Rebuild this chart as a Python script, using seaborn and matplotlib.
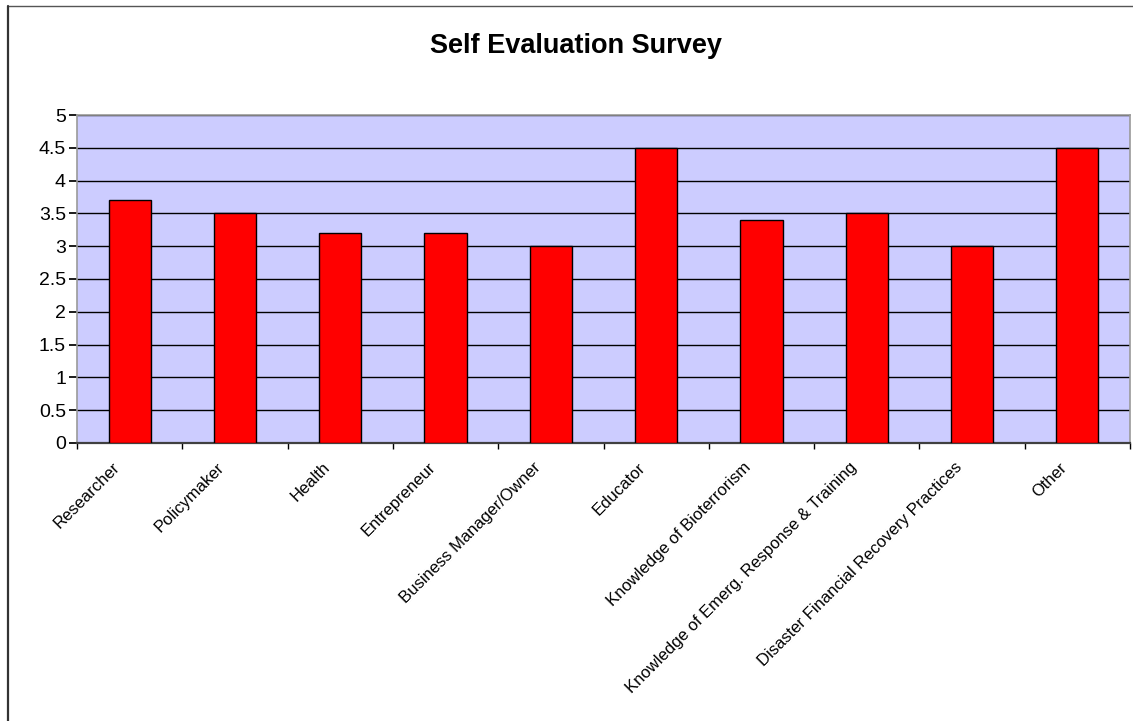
#!/usr/bin/env python3
import numpy as np
import pandas as pd
import seaborn as sns
import matplotlib.pyplot as plt
import matplotlib.transforms as mtransforms
from matplotlib.lines import Line2D

CATEGORIES = [
    "Researcher", "Policymaker", "Health", "Entrepreneur",
    "Business Manager/Owner", "Educator", "Knowledge of Bioterrorism",
    "Knowledge of Emerg. Response & Training",
    "Disaster Financial Recovery Practices", "Other",
]
SCORES = [3.7, 3.5, 3.2, 3.2, 3.0, 4.5, 3.4, 3.5, 3.0, 4.5]
Y_TICKS = [0, 0.5, 1, 1.5, 2, 2.5, 3, 3.5, 4, 4.5, 5]
Y_TICK_LABELS = ["0", "0.5", "1", "1.5", "2", "2.5", "3", "3.5", "4", "4.5", "5"]

W, H = 1133, 721

sns.set_theme(style="white")
plt.rcParams["font.family"] = ["Liberation Sans", "DejaVu Sans"]
plt.rcParams["text.color"] = "black"
plt.rcParams["xtick.color"] = "black"
plt.rcParams["ytick.color"] = "black"
plt.rcParams["xtick.labelcolor"] = "black"
plt.rcParams["ytick.labelcolor"] = "black"

df = pd.DataFrame({"category": CATEGORIES, "score": SCORES})

fig = plt.figure(figsize=(W / 100, H / 100), dpi=100)
ax = fig.add_axes([77 / W, 1 - 443 / H, (1130 - 77) / W, (443 - 115) / H])
ax.set_facecolor("#CCCCFF")

sns.barplot(data=df, x="category", y="score", color="#FF0000", width=0.4,
            edgecolor="black", linewidth=1.0, saturation=1, ax=ax, zorder=3)

ax.set_ylim(0, 5)
ax.set_xlim(-0.5, len(CATEGORIES) - 0.5)
ax.set_yticks(Y_TICKS)
ax.set_yticklabels(Y_TICK_LABELS, fontsize=14, color="black")
ax.yaxis.grid(True, color="black", linewidth=1.0, zorder=1)
ax.set_axisbelow(True)

# labels under the bars, tick marks at the category boundaries
ax.set_xticks(range(len(CATEGORIES)))
ax.set_xticklabels(CATEGORIES, rotation=45, ha="right", rotation_mode="anchor",
                   fontsize=12, color="black")
ax.tick_params(axis="x", which="major", length=3, direction="in", color="black", pad=12)
ax.set_xticks(np.arange(-0.5, len(CATEGORIES), 1), minor=True)
ax.tick_params(axis="x", which="minor", length=4.5, direction="out", color="black", bottom=True)
ax.tick_params(axis="y", length=6, direction="out", color="black", left=True, pad=2)

shift = mtransforms.ScaledTranslation(-18 / 100, 0, fig.dpi_scale_trans)
for lbl in ax.get_xticklabels():
    lbl.set_transform(lbl.get_transform() + shift)

ax.set_xlabel("")
ax.set_ylabel("")
for side in ["left", "top", "right"]:
    ax.spines[side].set_visible(True)
    ax.spines[side].set_color("#9a9a9a")
    ax.spines[side].set_linewidth(1.2)
ax.spines["bottom"].set_color("#404040")
ax.spines["bottom"].set_linewidth(1.6)

fig.text(576 / W, 1 - 46 / H, "Self Evaluation Survey", ha="center", va="center",
         fontsize=19.5, fontweight="bold", color="black")

# chart frame (only top and left edges fall inside the image)
fig.lines.append(Line2D([8 / W, 1.0], [1 - 5.5 / H, 1 - 5.5 / H], transform=fig.transFigure,
                        color="#555555", linewidth=1.0))
fig.lines.append(Line2D([8 / W, 8 / W], [0.0, 1 - 5.5 / H], transform=fig.transFigure,
                        color="#333333", linewidth=1.6))

fig.savefig("out.png", dpi=100)
